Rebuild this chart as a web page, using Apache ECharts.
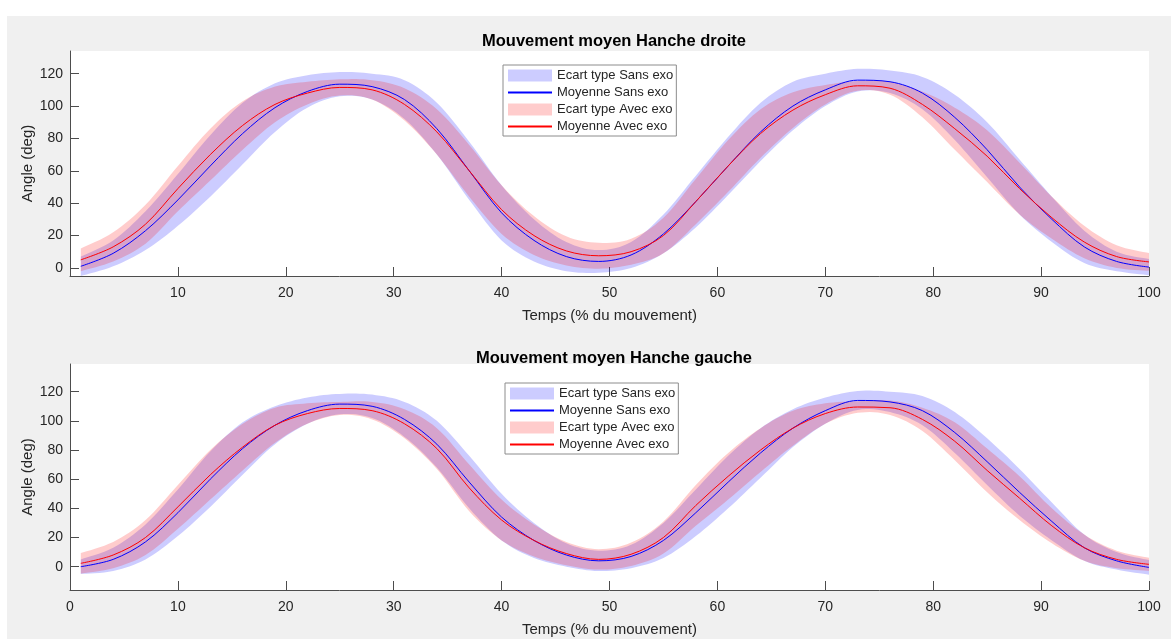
<!DOCTYPE html>
<html>
<head>
<meta charset="utf-8">
<script src="https://cdn.jsdelivr.net/npm/echarts@6/dist/echarts.min.js"></script>
<style>
html,body{margin:0;padding:0;background:#fff;}
#chart{width:1171px;height:639px;}
</style>
</head>
<body>
<div id="chart"></div>
<script>
// ---- Data ----
const TEMPS = [1,4,7,10,13,16,19,22,25,28,31,34,37,40,43,46,49,52,55,58,61,64,67,70,73,76,79,82,85,88,91,94,97,100];

// Hanche droite
const droiteSansMoy = [1,9,23,42,63,83,99,109,113.5,112,104,86,60,34,17,7,4,8,21,41,63,84,100,110,116,115,108,93,73,50,30,13,4,0.5];
const droiteSansSd  = [6,8,12,16,19,19,15,10,7.5,8,12,16,18,17,13,9,7,8,12,16,18,18,15,10,7,7,10,14,17,17,14,10,6,5];
const droiteAvecMoy = [5,13,27,49,70,88,101,108,111.5,110,101,84,60,36,20,10.5,7.5,10,20,41,63,83,97.5,107,112.5,111,101,86,69,49,31,16,7,3.7];
const droiteAvecSd  = [7,9,12,14,16,15,11,7,5,6,10,14,16,15,12,9,8,8,11,14,16,15,11,6,3,4,8,13,16,16,13,10,7,5.5];

// Hanche gauche
const gaucheSansMoy = [0,5,17,37,60,81,97,107,111.5,110,101,84,58,34,18,8,4,7,18,37,58,78,95,107,114,113,107,92,72,51,31,13,4,-0.5];
const gaucheSansSd  = [5,8,12,16,19,18,13,9,7,8,12,16,18,16,12,8,7,8,12,16,18,17,13,9,6.5,7,10,14,16,16,13,9,6,5];
const gaucheAvecMoy = [2.3,8,20,41,63,82,97,105,108.5,107,98,81,54,32,18,9,5,8.5,20,42,62,80,95,105,109.5,109,101,86,66,47,28,13,5,1.6];
const gaucheAvecSd  = [7,9,12,15,17,16,12,7,4.5,6,10,14,16,14,11,8,7,8,11,14,16,15,12,7,4,5,8,13,15,15,12,9,6,4.5];

const TITRES = ['Mouvement moyen Hanche droite', 'Mouvement moyen Hanche gauche'];
const LEGENDE = ['Ecart type Sans exo', 'Moyenne Sans exo', 'Ecart type Avec exo', 'Moyenne Avec exo'];
const X_NOM = 'Temps (% du mouvement)';
const Y_NOM = 'Angle (deg)';
const Y_TICKS = [0,20,40,60,80,100,120];
const X_TICKS_HAUT = [10,20,30,40,50,60,70,80,90,100];
const X_TICKS_BAS = [0,10,20,30,40,50,60,70,80,90,100];

// ---- Styles ----
const FONT = '"Liberation Sans", Arial, Helvetica, sans-serif';
const TXT = '#262626';
const AXE = '#4d4d4d';
const BLEU = '#0000ff';
const ROUGE = '#ff0000';
const BLEU_BANDE = 'rgba(0,0,255,0.2)';
const ROUGE_BANDE = 'rgba(255,0,0,0.2)';
const SMOOTH = 1/3;

// Catmull-Rom sampling in pixel space (rendering only)
function splinePts(p){
  const out = [], n = p.length, STEPS = 8;
  for (let i=0;i<n-1;i++){
    const p0=p[Math.max(i-1,0)], p1=p[i], p2=p[i+1], p3=p[Math.min(i+2,n-1)];
    const c1=[p1[0]+(p2[0]-p0[0])/6, p1[1]+(p2[1]-p0[1])/6];
    const c2=[p2[0]-(p3[0]-p1[0])/6, p2[1]-(p3[1]-p1[1])/6];
    for (let s=0;s<STEPS;s++){
      const t=s/STEPS, u=1-t;
      out.push([
        u*u*u*p1[0]+3*u*u*t*c1[0]+3*u*t*t*c2[0]+t*t*t*p2[0],
        u*u*u*p1[1]+3*u*u*t*c1[1]+3*u*t*t*c2[1]+t*t*t*p2[1]
      ]);
    }
  }
  out.push(p[n-1]);
  return out;
}

function pairs(vals){ return TEMPS.map((t,i)=>[t, vals[i]]); }

function bande(name, moy, sd, color, idx){
  return {type:'custom', name:name, xAxisIndex:idx, yAxisIndex:idx, coordinateSystem:'cartesian2d',
    data:[[TEMPS[0], moy[0]]], itemStyle:{color:color}, silent:true, clip:true,
    renderItem:function(params, api){
      const up = TEMPS.map((t,i)=>api.coord([t, moy[i]+sd[i]]));
      const lo = TEMPS.map((t,i)=>api.coord([t, moy[i]-sd[i]]));
      const pts = splinePts(up).concat(splinePts(lo).reverse());
      return {type:'polygon', shape:{points:pts}, style:{fill:color, stroke:null}};
    }};
}
function moyenne(name, moy, color, idx){
  return {type:'line', name:name, xAxisIndex:idx, yAxisIndex:idx, data:pairs(moy), symbol:'none',
          smooth:SMOOTH, color:color, lineStyle:{width:1, color:color}, itemStyle:{color:color}, silent:true};
}

const grids = [
  {left:70, right:22, top:51, height:225},
  {left:70, right:22, top:364, height:226}
];
const yRanges = [[-5,134],[-16,139]];

function xAxis(idx, ticks){
  return {type:'value', gridIndex:idx, min:0, max:100,
    name:X_NOM, nameLocation:'middle', nameGap:32,
    nameTextStyle:{color:TXT, fontFamily:FONT, fontSize:15},
    axisLine:{show:true, onZero:false, lineStyle:{color:AXE, width:1}},
    axisTick:{show:true, inside:true, length:9, customValues:ticks, lineStyle:{color:AXE}},
    axisLabel:{customValues:ticks, color:TXT, fontFamily:FONT, fontSize:14, margin:10},
    splitLine:{show:false}};
}
function yAxis(idx){
  return {type:'value', gridIndex:idx, min:yRanges[idx][0], max:yRanges[idx][1],
    name:Y_NOM, nameLocation:'middle', nameGap:35, nameMoveOverlap:false,
    nameTextStyle:{color:TXT, fontFamily:FONT, fontSize:15},
    axisLine:{show:true, onZero:false, lineStyle:{color:AXE, width:1}},
    axisTick:{show:true, inside:true, length:9, customValues:Y_TICKS, lineStyle:{color:AXE}},
    axisLabel:{customValues:Y_TICKS, color:TXT, fontFamily:FONT, fontSize:14, margin:7},
    splitLine:{show:false}};
}
function legende(idx, left, top){
  return {orient:'vertical', left:left, top:top, itemWidth:44, itemHeight:12, itemGap:4,
    padding:[4,3,3,4], borderColor:'#8c8c8c', borderWidth:1, backgroundColor:'#fff',
    textStyle:{color:TXT, fontFamily:FONT, fontSize:13}, selectedMode:false,
    data:[
      {name:LEGENDE[0], icon:'rect', itemStyle:{color:BLEU_BANDE, borderWidth:0}},
      {name:LEGENDE[1], itemStyle:{opacity:0}},
      {name:LEGENDE[2], icon:'rect', itemStyle:{color:ROUGE_BANDE, borderWidth:0}},
      {name:LEGENDE[3], itemStyle:{opacity:0}}
    ]};
}

const series = [];
[[droiteSansMoy,droiteSansSd,droiteAvecMoy,droiteAvecSd],[gaucheSansMoy,gaucheSansSd,gaucheAvecMoy,gaucheAvecSd]]
.forEach((d,idx)=>{
  series.push(bande(LEGENDE[0], d[0], d[1], BLEU_BANDE, idx));
  series.push(moyenne(LEGENDE[1], d[0], BLEU, idx));
  series.push(bande(LEGENDE[2], d[2], d[3], ROUGE_BANDE, idx));
  series.push(moyenne(LEGENDE[3], d[2], ROUGE, idx));
});

const chart = echarts.init(document.getElementById('chart'), null, {renderer:'canvas'});
chart.setOption({
  animation:false,
  backgroundColor:'#ffffff',
  graphic:[{type:'rect', shape:{x:7, y:16, width:1164, height:623}, style:{fill:'#f0f0f0'}, z:-10, silent:true}],
  title:[
    {text:TITRES[0], left:609, top:28, textAlign:'center', textStyle:{color:'#000', fontFamily:FONT, fontSize:16.5, fontWeight:'bold'}},
    {text:TITRES[1], left:609, top:345, textAlign:'center', textStyle:{color:'#000', fontFamily:FONT, fontSize:16.5, fontWeight:'bold'}}
  ],
  legend:[legende(0, 503, 65), legende(1, 505, 383)],
  grid:grids.map(g=>Object.assign({show:true, backgroundColor:'#fff', borderWidth:0, containLabel:false}, g)),
  xAxis:[xAxis(0, X_TICKS_HAUT), xAxis(1, X_TICKS_BAS)],
  yAxis:[yAxis(0), yAxis(1)],
  series:series
});
</script>
</body>
</html>
